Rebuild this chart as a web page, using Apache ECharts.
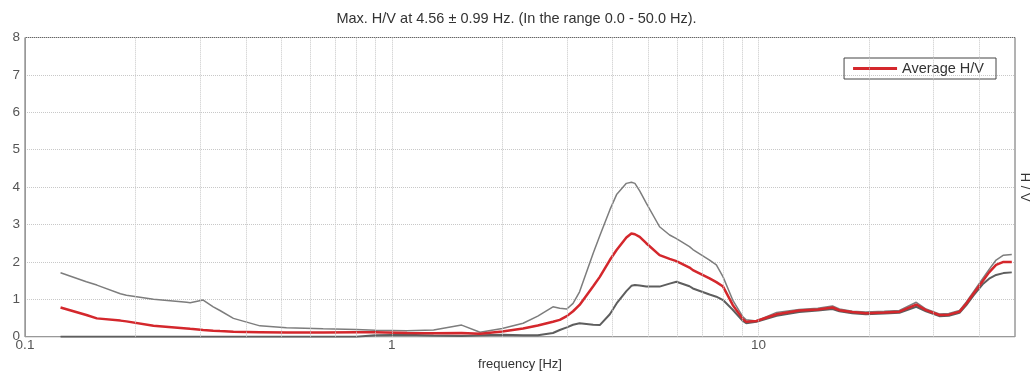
<!DOCTYPE html>
<html>
<head>
<meta charset="utf-8">
<script src="https://cdn.jsdelivr.net/npm/echarts@6/dist/echarts.min.js"></script>
<style>
  html, body { margin: 0; padding: 0; background: #fff; }
  #chart { width: 1033px; height: 371px; }
</style>
</head>
<body>
<div id="chart"></div>
<script>
// frequency samples (Hz) shared by the three curves
const freq = [0.125, 0.147, 0.157, 0.182, 0.189, 0.224, 0.276, 0.282, 0.306, 0.326, 0.34, 0.37, 0.437, 0.516, 0.65, 0.8, 0.9, 1.1, 1.3, 1.55, 1.74, 2.0, 2.28, 2.5, 2.75, 2.87, 3.0, 3.12, 3.25, 3.54, 3.69, 3.93, 4.1, 4.36, 4.5, 4.6, 4.74, 4.94, 5.37, 5.72, 5.97, 6.48, 6.62, 7.35, 7.67, 8.0, 8.5, 9.06, 9.25, 9.86, 11.2, 12.9, 14.5, 15.9, 16.6, 18, 19.6, 22, 24.2, 26.9, 28.6, 31.1, 33, 35.3, 36.8, 38.5, 40.8, 42.5, 44.4, 46.5, 49];

const averageHV = [0.78, 0.58, 0.49, 0.43, 0.41, 0.29, 0.22, 0.21, 0.18, 0.16, 0.15, 0.13, 0.12, 0.11, 0.11, 0.12, 0.12, 0.10, 0.09, 0.10, 0.08, 0.14, 0.22, 0.30, 0.40, 0.45, 0.55, 0.68, 0.85, 1.35, 1.60, 2.05, 2.32, 2.65, 2.76, 2.74, 2.67, 2.50, 2.18, 2.08, 2.02, 1.85, 1.78, 1.56, 1.46, 1.34, 0.85, 0.47, 0.40, 0.42, 0.60, 0.70, 0.73, 0.78, 0.71, 0.66, 0.63, 0.65, 0.67, 0.86, 0.71, 0.58, 0.59, 0.67, 0.88, 1.15, 1.48, 1.72, 1.92, 2.00, 2.00];

const upperHV = [1.71, 1.47, 1.38, 1.15, 1.11, 1.00, 0.92, 0.91, 0.98, 0.80, 0.70, 0.49, 0.29, 0.24, 0.21, 0.19, 0.17, 0.16, 0.18, 0.31, 0.12, 0.22, 0.36, 0.55, 0.80, 0.76, 0.74, 0.89, 1.20, 2.23, 2.70, 3.39, 3.80, 4.10, 4.13, 4.10, 3.90, 3.57, 2.94, 2.72, 2.62, 2.41, 2.33, 2.05, 1.92, 1.60, 0.98, 0.53, 0.45, 0.42, 0.65, 0.73, 0.76, 0.82, 0.74, 0.68, 0.66, 0.68, 0.70, 0.92, 0.74, 0.61, 0.62, 0.70, 0.92, 1.20, 1.55, 1.80, 2.05, 2.18, 2.20];

const lowerHV = [0, 0, 0, 0, 0, 0, 0, 0, 0, 0, 0, 0, 0, 0, 0, 0, 0.04, 0.05, 0.03, 0.02, 0.04, 0.05, 0.04, 0.04, 0.10, 0.18, 0.25, 0.32, 0.36, 0.32, 0.31, 0.60, 0.89, 1.22, 1.36, 1.38, 1.37, 1.34, 1.34, 1.42, 1.47, 1.35, 1.29, 1.13, 1.07, 0.98, 0.72, 0.42, 0.36, 0.40, 0.56, 0.66, 0.70, 0.74, 0.68, 0.63, 0.60, 0.62, 0.64, 0.80, 0.68, 0.55, 0.56, 0.64, 0.84, 1.10, 1.40, 1.55, 1.65, 1.70, 1.72];

// vertical log grid lines
const gridFreqs = [0.2, 0.3, 0.4, 0.5, 0.6, 0.7, 0.8, 0.9, 1, 2, 3, 4, 5, 6, 7, 8, 9, 10, 20, 30, 40];

const pairs = vals => freq.map((f, i) => [f, vals[i]]);

const font = 'Liberation Sans, Arial, sans-serif';
const chart = echarts.init(document.getElementById('chart'));

chart.setOption({
    animation: false,
    title: {
        text: 'Max. H/V at 4.56 ± 0.99 Hz. (In the range 0.0 - 50.0 Hz).',
        left: 'center',
        top: 6,
        textStyle: { fontSize: 14.5, fontWeight: 'normal', color: '#333', fontFamily: font },
    },
    legend: {
        data: ['Average H/V'],
        right: 37,
        top: 58,
        icon: 'rect',
        itemWidth: 44,
        itemHeight: 3,
        itemGap: 10,
        padding: [3, 12, 3, 9],
        borderColor: '#444',
        borderWidth: 1,
        borderRadius: 0,
        textStyle: { fontSize: 14.5, color: '#333', fontFamily: font },
    },
    grid: {
        left: 25,
        right: 18,
        top: 37.5,
        bottom: 34.3,
        outerBoundsMode: 'none',
        containLabel: false,
        show: true,
        borderColor: '#666',
        borderWidth: 1,
    },
    xAxis: {
        type: 'log',
        logBase: 10,
        min: 0.1,
        max: 50,
        name: 'frequency [Hz]',
        nameLocation: 'middle',
        nameGap: 20,
        nameTextStyle: { fontSize: 13, color: '#333', fontFamily: font },
        axisLine: { lineStyle: { color: '#999' } },
        axisTick: { show: false },
        axisLabel: { fontSize: 13.5, color: '#555', margin: 2, showMaxLabel: false, fontFamily: font },
        splitLine: { show: false },
    },
    yAxis: [
        {
            type: 'value',
            min: 0,
            max: 8,
            interval: 1,
            axisLine: { show: true, lineStyle: { color: '#999' } },
            axisTick: { show: false },
            axisLabel: { fontSize: 13.5, color: '#555', margin: 5, fontFamily: font },
            splitLine: { lineStyle: { type: 'dotted', color: '#c8c8c8' } },
        },
        {
            type: 'value',
            position: 'right',
            min: 0,
            max: 8,
            name: 'H / V',
            nameLocation: 'middle',
            nameRotate: -90,
            nameGap: 3,
            nameTextStyle: { fontSize: 13, color: '#333', fontFamily: font },
            axisLine: { show: false },
            axisTick: { show: false },
            axisLabel: { show: false },
            splitLine: { show: false },
        },
    ],
    series: [
        {
            name: 'grid',
            type: 'line',
            data: [],
            z: 1,
            silent: true,
            markLine: {
                silent: true,
                symbol: ['none', 'none'],
                label: { show: false },
                lineStyle: { type: 'dotted', color: '#c8c8c8', width: 1 },
                data: gridFreqs.map(f => ({ xAxis: f })),
            },
        },
        {
            name: 'Upper',
            type: 'line',
            data: pairs(upperHV),
            showSymbol: false,
            symbol: 'none',
            z: 3,
            lineStyle: { color: '#7d7d7d', width: 1.5 },
        },
        {
            name: 'Lower',
            type: 'line',
            data: pairs(lowerHV),
            showSymbol: false,
            symbol: 'none',
            z: 3,
            lineStyle: { color: '#5e5e5e', width: 2 },
        },
        {
            name: 'Average H/V',
            type: 'line',
            data: pairs(averageHV),
            showSymbol: false,
            symbol: 'none',
            z: 4,
            color: '#d4272c',
            lineStyle: { color: '#d4272c', width: 2.5 },
        },
    ],
});
</script>
</body>
</html>
